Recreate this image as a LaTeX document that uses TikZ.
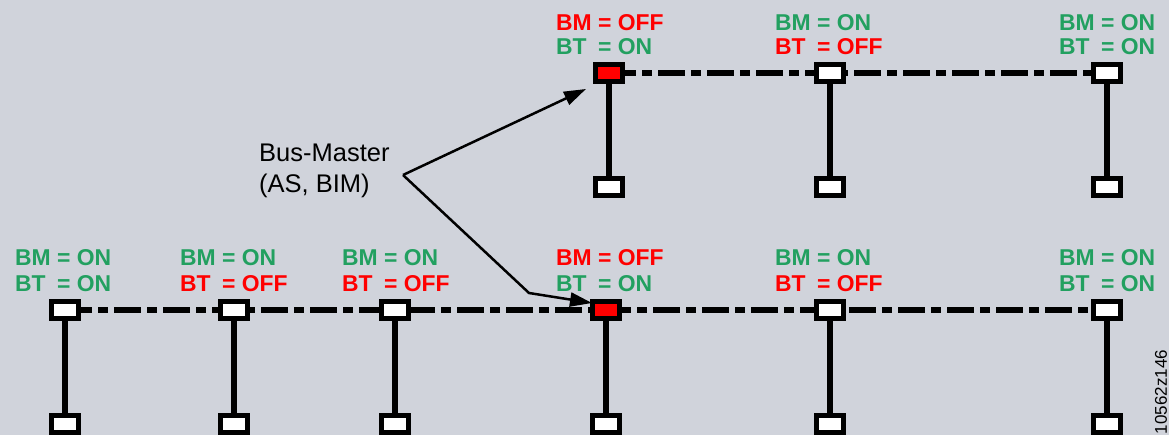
\documentclass[tikz,border=0pt]{standalone}
\usepackage{fontspec}
\setmainfont{Liberation Sans}
\usetikzlibrary{arrows.meta}
\definecolor{bgc}{RGB}{208,211,219}
\definecolor{gon}{RGB}{34,160,96}
\definecolor{roff}{RGB}{255,0,0}
\pgfdeclarelayer{bg}
\pgfdeclarelayer{mid}
\pgfsetlayers{bg,mid,main}
\newcommand{\lbl}{\fontsize{22.9}{26}\selectfont\bfseries}
\newcommand{\BTx}{\rlap{BT}\hphantom{BM}}
\tikzset{
  x=1pt, y=-1pt,
  dev/.style={draw=black, line width=5pt, fill=white, minimum width=27pt, minimum height=17pt, inner sep=0pt, rectangle},
  devm/.style={dev, fill=roff},
  busline/.style={line width=6pt, dash pattern=on 27pt off 6pt on 10pt off 6pt},
  stub/.style={line width=5.7pt},
  txt/.style={anchor=base west, inner sep=0pt, font=\lbl},
  ptr/.style={line width=2.5pt, -{Triangle[length=22pt, width=14pt]}},
}
\begin{document}
\begin{tikzpicture}
\begin{pgfonlayer}{bg}
\fill[bgc] (0,0) rectangle (1169,435);
\end{pgfonlayer}
\useasboundingbox (0,0) rectangle (1169,435);

% upper segment
\node[devm] (u1) at (609,73) {};
\node[dev]  (u2) at (830,73) {};
\node[dev]  (u3) at (1107,73) {};
\node[dev]  (ub1) at (609,187) {};
\node[dev]  (ub2) at (830,187) {};
\node[dev]  (ub3) at (1107,187) {};

% lower segment
\node[dev]  (l1) at (65,310) {};
\node[dev]  (l2) at (234,310) {};
\node[dev]  (l3) at (395,310) {};
\node[devm] (l4) at (606,310) {};
\node[dev]  (l5) at (830,310) {};
\node[dev]  (l6) at (1107,310) {};
\node[dev]  (lb1) at (65,424) {};
\node[dev]  (lb2) at (234,424) {};
\node[dev]  (lb3) at (395,424) {};
\node[dev]  (lb4) at (606,424) {};
\node[dev]  (lb5) at (830,424) {};
\node[dev]  (lb6) at (1107,424) {};

\begin{pgfonlayer}{mid}
\draw[busline] (u1.center) -- (u3.center);
\draw[busline] (l1.center) -- (l6.center);
\foreach \a/\b in {u1/ub1,u2/ub2,u3/ub3,l1/lb1,l2/lb2,l3/lb3,l4/lb4,l5/lb5,l6/lb6}
  \draw[stub] (\a.center) -- (\b.center);
\end{pgfonlayer}

% upper labels
\node[txt, text=roff] (t1a) at (556,31) {BM = OFF};
\node[txt, text=gon]  (t1b) at (556,55) {\BTx\ = ON};
\node[txt, text=gon]  (t2a) at (775,31) {BM = ON};
\node[txt, text=roff] (t2b) at (775,55) {\BTx\ = OFF};
\node[txt, text=gon]  (t3a) at (1059,31) {BM = ON};
\node[txt, text=gon]  (t3b) at (1059,55) {\BTx\ = ON};

% lower labels
\node[txt, text=gon]  (s1a) at (15,266) {BM = ON};
\node[txt, text=gon]  (s1b) at (15,292) {\BTx\ = ON};
\node[txt, text=gon]  (s2a) at (180,266) {BM = ON};
\node[txt, text=roff] (s2b) at (180,292) {\BTx\ = OFF};
\node[txt, text=gon]  (s3a) at (342,266) {BM = ON};
\node[txt, text=roff] (s3b) at (342,292) {\BTx\ = OFF};
\node[txt, text=roff] (s4a) at (556,266) {BM = OFF};
\node[txt, text=gon]  (s4b) at (556,292) {\BTx\ = ON};
\node[txt, text=gon]  (s5a) at (775,266) {BM = ON};
\node[txt, text=roff] (s5b) at (775,292) {\BTx\ = OFF};
\node[txt, text=gon]  (s6a) at (1059,266) {BM = ON};
\node[txt, text=gon]  (s6b) at (1059,292) {\BTx\ = ON};

% bus-master callout
\node[anchor=base west, inner sep=0pt, font=\fontsize{25.5}{30}\selectfont] (bm1) at (259,162) {Bus-Master};
\node[anchor=base west, inner sep=0pt, font=\fontsize{25.5}{30}\selectfont] (bm2) at (259,193) {(AS, BIM)};
\coordinate (vx) at (403,175);
\coordinate (tipu) at (586,89);
\coordinate (bend) at (529,293);
\coordinate (tipl) at (592,303);
\draw[ptr, line join=miter] (vx) -- (tipu);
\draw[ptr, line join=miter] (vx) -- (bend) -- (tipl);

% figure number
\node[rotate=90, inner sep=0pt, font=\fontsize{17}{20}\selectfont] (fig) at (1161,392) {10562z146};
\end{tikzpicture}
\end{document}
